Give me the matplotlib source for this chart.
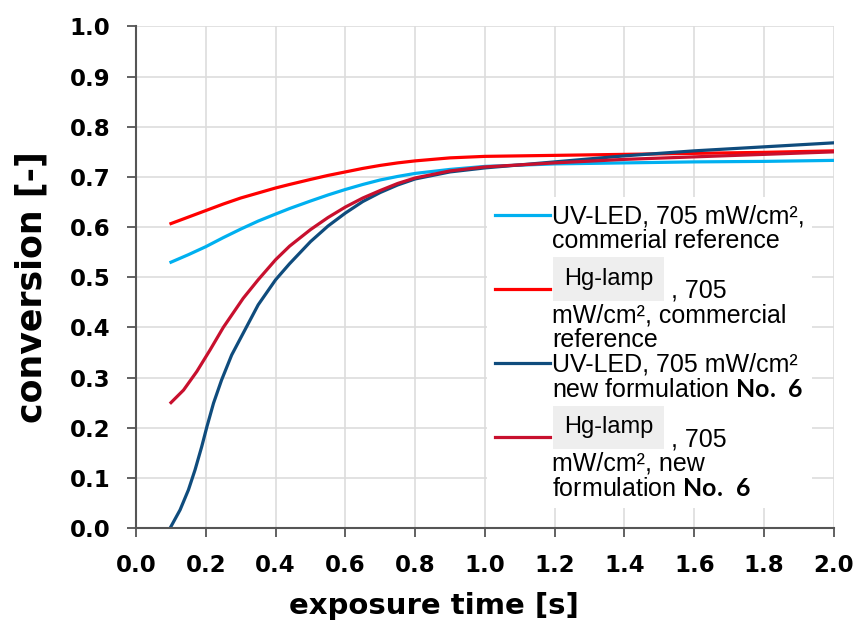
import numpy as np
import matplotlib
matplotlib.use('Agg')
import matplotlib.pyplot as plt
from matplotlib.lines import Line2D

plt.rcParams['font.family'] = ['Liberation Sans', 'DejaVu Sans']
plt.rcParams['mathtext.fontset'] = 'custom'
plt.rcParams['mathtext.bf'] = 'Lato:bold'
plt.rcParams['mathtext.rm'] = 'Liberation Sans'

# UV-LED, commercial reference
t_led_ref = [0.10, 0.15, 0.20, 0.25, 0.30, 0.35, 0.40, 0.44, 0.50, 0.55, 0.60, 0.65, 0.70, 0.75, 0.80, 0.90, 1.00, 1.20, 1.40, 1.60, 1.80, 2.00]
c_led_ref = [0.530, 0.545, 0.561, 0.579, 0.596, 0.612, 0.626, 0.637, 0.652, 0.664, 0.675, 0.685, 0.694, 0.701, 0.707, 0.715, 0.721, 0.726, 0.728, 0.730, 0.731, 0.733]
# Hg-lamp, commercial reference
t_hg_ref = [0.10, 0.15, 0.20, 0.25, 0.30, 0.35, 0.40, 0.44, 0.50, 0.55, 0.60, 0.65, 0.70, 0.75, 0.80, 0.90, 1.00, 1.20, 1.40, 1.60, 1.80, 2.00]
c_hg_ref = [0.607, 0.620, 0.633, 0.646, 0.658, 0.668, 0.678, 0.685, 0.695, 0.703, 0.710, 0.717, 0.723, 0.728, 0.732, 0.738, 0.741, 0.743, 0.745, 0.747, 0.749, 0.752]
# UV-LED, new formulation No. 6
t_led_new = [0.10, 0.126, 0.15, 0.169, 0.188, 0.203, 0.222, 0.245, 0.274, 0.312, 0.35, 0.40, 0.44, 0.50, 0.55, 0.60, 0.65, 0.70, 0.75, 0.80, 0.90, 1.00, 1.20, 1.40, 1.60, 1.80, 2.00]
c_led_new = [0.003, 0.036, 0.076, 0.116, 0.162, 0.202, 0.249, 0.295, 0.345, 0.395, 0.445, 0.495, 0.527, 0.571, 0.602, 0.628, 0.651, 0.669, 0.684, 0.696, 0.710, 0.718, 0.730, 0.742, 0.752, 0.760, 0.768]
# Hg-lamp, new formulation No. 6
t_hg_new = [0.10, 0.136, 0.174, 0.212, 0.25, 0.307, 0.35, 0.40, 0.44, 0.50, 0.55, 0.60, 0.65, 0.70, 0.75, 0.80, 0.90, 1.00, 1.20, 1.40, 1.60, 1.80, 2.00]
c_hg_new = [0.250, 0.275, 0.312, 0.355, 0.400, 0.458, 0.495, 0.535, 0.562, 0.595, 0.619, 0.640, 0.658, 0.673, 0.687, 0.698, 0.712, 0.720, 0.728, 0.735, 0.740, 0.745, 0.750]

xticks = [0.0, 0.2, 0.4, 0.6, 0.8, 1.0, 1.2, 1.4, 1.6, 1.8, 2.0]
yticks = [0.0, 0.1, 0.2, 0.3, 0.4, 0.5, 0.6, 0.7, 0.8, 0.9, 1.0]

# legend rows (one text line per row, line handle on the first line of each entry);
# the lamp name sits in a grey box drawn over the blank start of its row
lamp = 'Hg-lamp'
legend_rows = [
    'UV-LED, 705 mW/cm\u00b2,',
    'commerial reference',
    ' ',
    ' ' * 17 + ', 705',
    'mW/cm\u00b2, commercial',
    'reference',
    'UV-LED, 705 mW/cm\u00b2',
    'new formulation $\\mathbf{No.\\ 6}$',
    ' ',
    ' ' * 17 + ', 705',
    'mW/cm\u00b2, new',
    'formulation $\\mathbf{No.\\ 6}$',
]
colors = ['#00b0f0', '#ff0000', '#0f4c7d', '#c8102e']

fig = plt.figure(figsize=(8.56, 6.23), dpi=100)
ax = fig.add_axes([0.159, 0.1525, 0.815, 0.805])

l1, = ax.plot(t_led_ref, c_led_ref, color=colors[0], lw=2.3)
l2, = ax.plot(t_hg_ref, c_hg_ref, color=colors[1], lw=2.3)
l3, = ax.plot(t_led_new, c_led_new, color=colors[2], lw=2.3)
l4, = ax.plot(t_hg_new, c_hg_new, color=colors[3], lw=2.3)

ax.set_xlim(0, 2.0)
ax.set_ylim(0, 1.0)
ax.set_xticks(xticks)
ax.set_yticks(yticks)
ax.set_xticklabels(['%.1f' % v for v in xticks])
ax.set_yticklabels(['%.1f' % v for v in yticks])
ax.grid(True, color='#dddddd', lw=1.2)
ax.set_axisbelow(True)
for s in ['top', 'right']:
    ax.spines[s].set_visible(False)
for s in ['left', 'bottom']:
    ax.spines[s].set_color('#555555')
    ax.spines[s].set_linewidth(1.5)
ax.tick_params(direction='out', length=6.5, width=1.3, color='#555555', pad=12)
for lab in ax.get_xticklabels() + ax.get_yticklabels():
    lab.set_fontfamily('DejaVu Sans')
    lab.set_fontweight('bold')
    lab.set_fontsize(16.5)

ax.set_xlabel('exposure time [s]', fontsize=21, fontweight='bold', family='DejaVu Sans')
ax.xaxis.set_label_coords(0.427, -0.128)
ax.set_ylabel('conversion [-]', fontsize=25, fontweight='bold', family='DejaVu Sans')
ax.yaxis.set_label_coords(-0.125, 0.481)

blank = Line2D([], [], color='none')
handles = [l1, blank, blank, l2, blank, blank, l3, blank, blank, l4, blank, blank]
leg = ax.legend(handles, legend_rows, loc='upper left', bbox_to_anchor=(0.503, 0.66),
                borderaxespad=0, fontsize=18, frameon=True, framealpha=1,
                edgecolor='none', fancybox=False, handlelength=2.2,
                handletextpad=0.1, labelspacing=0.03, borderpad=0.3)
leg.get_frame().set_facecolor('white')
texts = leg.get_texts()
for i in [3, 9]:
    ax.annotate(lamp, xy=(0, 0.5), xycoords=texts[i], xytext=(8.5, 8.5),
                textcoords='offset points', ha='left', va='center', fontsize=17,
                bbox=dict(boxstyle='square,pad=0.45', facecolor='#eeeeee', edgecolor='none'),
                zorder=10)

fig.savefig('out.png', dpi=100)
